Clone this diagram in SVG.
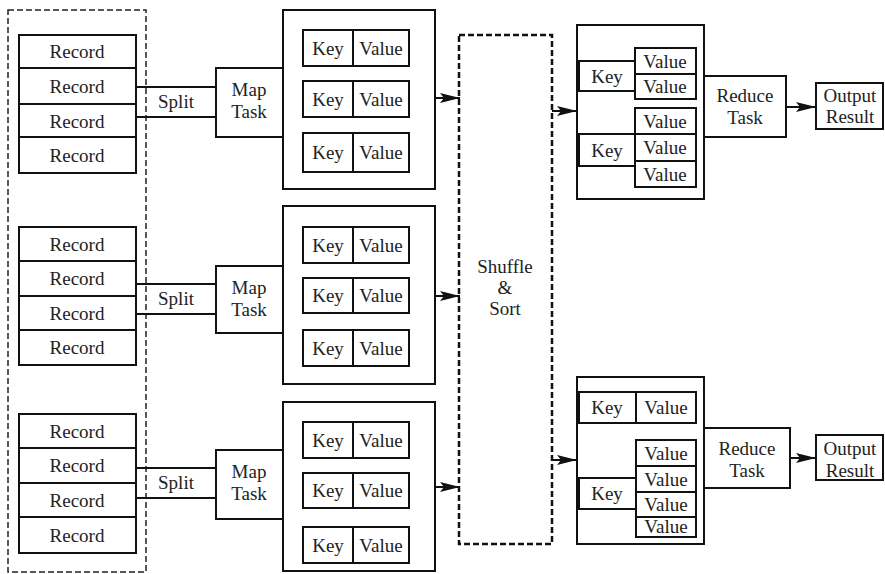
<svg xmlns="http://www.w3.org/2000/svg" width="885" height="574" viewBox="0 0 885 574">
<defs>
<marker id="arr" markerUnits="userSpaceOnUse" markerWidth="22" markerHeight="12" refX="20" refY="6" orient="auto">
<path d="M0,1 L20,6 L0,11 L4,6 z" fill="#111"/>
</marker>
<style>
rect{fill:#fff;stroke:#111;stroke-width:2}
line{stroke:#111;stroke-width:2}
text{font-family:'Liberation Serif','DejaVu Serif',serif;font-size:19px;fill:#222;text-anchor:middle}
.dash1{fill:none;stroke:#222;stroke-width:1.5;stroke-dasharray:6 3}
.dash2{fill:none;stroke:#111;stroke-width:2.5;stroke-dasharray:6 3}
.conn{stroke:#111;stroke-width:2;marker-end:url(#arr)}
</style>
</defs>
<rect width="885" height="574" style="fill:#fff;stroke:none"/>

<g id="input">
<rect class="dash1" x="8" y="10" width="138" height="562"/>
</g>

<g font-family="Liberation Serif, DejaVu Serif, serif">
<g id="records1">
<rect x="19" y="35" width="117" height="33"/><rect x="19" y="68" width="117" height="36"/><rect x="19" y="104" width="117" height="33"/><rect x="19" y="137" width="117" height="36"/>
<text x="77" y="58">Record</text><text x="77" y="93">Record</text><text x="77" y="128">Record</text><text x="77" y="162">Record</text>
</g>
<g id="records2">
<rect x="19" y="227" width="117" height="34"/><rect x="19" y="261" width="117" height="35"/><rect x="19" y="296" width="117" height="34"/><rect x="19" y="330" width="117" height="35"/>
<text x="77" y="251">Record</text><text x="77" y="285">Record</text><text x="77" y="320">Record</text><text x="77" y="354">Record</text>
</g>
<g id="records3">
<rect x="19" y="414" width="117" height="34"/><rect x="19" y="448" width="117" height="35"/><rect x="19" y="483" width="117" height="34"/><rect x="19" y="517" width="117" height="36"/>
<text x="77" y="438">Record</text><text x="77" y="472">Record</text><text x="77" y="507">Record</text><text x="77" y="542">Record</text>
</g>

<g id="split1"><line x1="136" y1="87" x2="216" y2="87"/><line x1="136" y1="117" x2="216" y2="117"/><text x="176" y="108">Split</text></g>
<g id="split2"><line x1="136" y1="284" x2="216" y2="284"/><line x1="136" y1="314" x2="216" y2="314"/><text x="176" y="305">Split</text></g>
<g id="split3"><line x1="136" y1="468" x2="216" y2="468"/><line x1="136" y1="498" x2="216" y2="498"/><text x="176" y="489">Split</text></g>

<g id="map1"><rect x="216" y="68" width="67" height="69"/><text x="249" y="96">Map</text><text x="249" y="118">Task</text></g>
<g id="map2"><rect x="216" y="266" width="67" height="67"/><text x="249" y="294">Map</text><text x="249" y="316">Task</text></g>
<g id="map3"><rect x="216" y="450" width="67" height="69"/><text x="249" y="478">Map</text><text x="249" y="500">Task</text></g>

<g id="mapout1">
<rect x="283" y="10" width="152" height="179"/>
<rect x="303" y="30" width="50" height="36"/><rect x="353" y="30" width="56" height="36"/>
<rect x="303" y="81" width="50" height="36"/><rect x="353" y="81" width="56" height="36"/>
<rect x="303" y="133" width="50" height="39"/><rect x="353" y="133" width="56" height="39"/>
<text x="328" y="55">Key</text><text x="381" y="55">Value</text>
<text x="328" y="106">Key</text><text x="381" y="106">Value</text>
<text x="328" y="159">Key</text><text x="381" y="159">Value</text>
</g>
<g id="mapout2">
<rect x="283" y="206" width="152" height="178"/>
<rect x="303" y="227" width="50" height="36"/><rect x="353" y="227" width="56" height="36"/>
<rect x="303" y="278" width="50" height="35"/><rect x="353" y="278" width="56" height="35"/>
<rect x="303" y="330" width="50" height="36"/><rect x="353" y="330" width="56" height="36"/>
<text x="328" y="252">Key</text><text x="381" y="252">Value</text>
<text x="328" y="302">Key</text><text x="381" y="302">Value</text>
<text x="328" y="355">Key</text><text x="381" y="355">Value</text>
</g>
<g id="mapout3">
<rect x="283" y="402" width="152" height="169"/>
<rect x="303" y="422" width="50" height="36"/><rect x="353" y="422" width="56" height="36"/>
<rect x="303" y="473" width="50" height="35"/><rect x="353" y="473" width="56" height="35"/>
<rect x="303" y="527" width="50" height="36"/><rect x="353" y="527" width="56" height="36"/>
<text x="328" y="447">Key</text><text x="381" y="447">Value</text>
<text x="328" y="497">Key</text><text x="381" y="497">Value</text>
<text x="328" y="552">Key</text><text x="381" y="552">Value</text>
</g>

<g id="shuffle">
<rect class="dash2" x="459" y="35" width="93" height="509"/>
<text x="505" y="273">Shuffle</text><text x="505" y="294">&amp;</text><text x="505" y="315">Sort</text>
</g>

<g id="reducein1">
<rect x="577" y="25" width="127" height="174"/>
<rect x="579" y="61" width="56" height="30"/>
<rect x="635" y="48" width="61" height="26"/><rect x="635" y="74" width="61" height="25"/>
<rect x="579" y="134" width="56" height="32"/>
<rect x="635" y="108" width="61" height="26"/><rect x="635" y="134" width="61" height="27"/><rect x="635" y="161" width="61" height="26"/>
<text x="607" y="83">Key</text>
<text x="665" y="68">Value</text><text x="665" y="93">Value</text>
<text x="607" y="157">Key</text>
<text x="665" y="128">Value</text><text x="665" y="154">Value</text><text x="665" y="181">Value</text>
</g>
<g id="reducein2">
<rect x="577" y="377" width="127" height="167"/>
<rect x="579" y="392" width="57" height="31"/><rect x="636" y="392" width="60" height="31"/>
<rect x="579" y="478" width="57" height="31"/>
<rect x="636" y="440" width="60" height="26"/><rect x="636" y="466" width="60" height="26"/><rect x="636" y="492" width="60" height="25"/><rect x="636" y="517" width="60" height="20"/>
<text x="607" y="414">Key</text><text x="666" y="414">Value</text>
<text x="607" y="500">Key</text>
<text x="666" y="460">Value</text><text x="666" y="486">Value</text><text x="666" y="511">Value</text><text x="666" y="533">Value</text>
</g>

<g id="reduce1"><rect x="704" y="76" width="82" height="61"/><text x="745" y="102">Reduce</text><text x="745" y="124">Task</text></g>
<g id="reduce2"><rect x="704" y="428" width="86" height="60"/><text x="747" y="455">Reduce</text><text x="747" y="477">Task</text></g>

<g id="output1"><rect x="816" y="83" width="67" height="46"/><text x="850" y="102">Output</text><text x="850" y="123">Result</text></g>
<g id="output2"><rect x="816" y="435" width="67" height="45"/><text x="850" y="455">Output</text><text x="850" y="477">Result</text></g>
</g>

<g id="connectors">
<line class="conn" x1="435" y1="98" x2="460" y2="98"/>
<line class="conn" x1="435" y1="296" x2="460" y2="296"/>
<line class="conn" x1="435" y1="487" x2="460" y2="487"/>
<line class="conn" x1="552" y1="111" x2="577" y2="111"/>
<line class="conn" x1="552" y1="460" x2="577" y2="460"/>
<line class="conn" x1="786" y1="107" x2="816" y2="107"/>
<line class="conn" x1="790" y1="458" x2="816" y2="458"/>
</g>
</svg>
